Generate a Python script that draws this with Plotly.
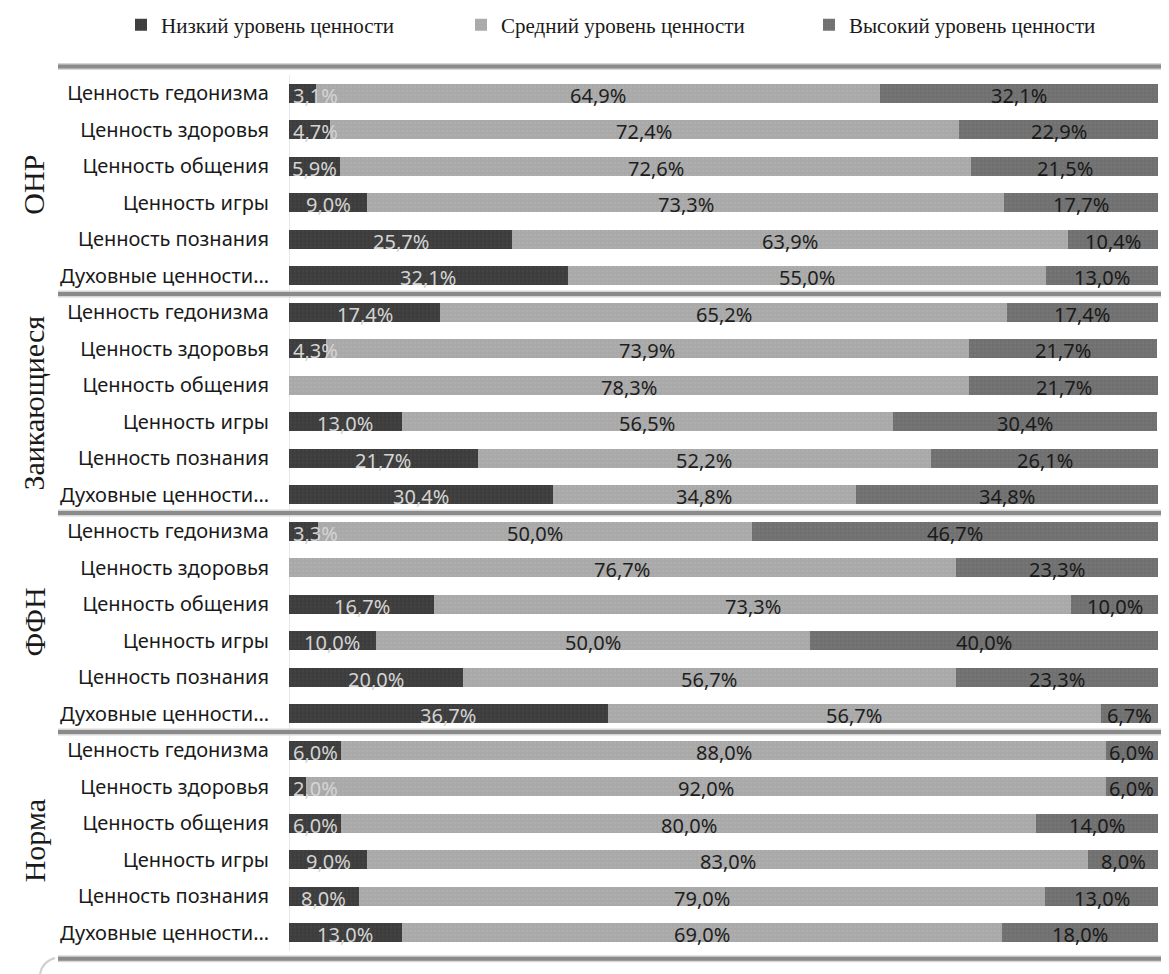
import plotly.graph_objects as go

groups = ["ОНР", "Заикающиеся", "ФФН", "Норма"]
categories = ["Ценность гедонизма", "Ценность здоровья", "Ценность общения",
              "Ценность игры", "Ценность познания", "Духовные ценности…"]
series_names = ["Низкий уровень ценности", "Средний уровень ценности", "Высокий уровень ценности"]

low = [3.1, 4.7, 5.9, 9.0, 25.7, 32.1,
       17.4, 4.3, 0.0, 13.0, 21.7, 30.4,
       3.3, 0.0, 16.7, 10.0, 20.0, 36.7,
       6.0, 2.0, 6.0, 9.0, 8.0, 13.0]
mid = [64.9, 72.4, 72.6, 73.3, 63.9, 55.0,
       65.2, 73.9, 78.3, 56.5, 52.2, 34.8,
       50.0, 76.7, 73.3, 50.0, 56.7, 56.7,
       88.0, 92.0, 80.0, 83.0, 79.0, 69.0]
high = [32.1, 22.9, 21.5, 17.7, 10.4, 13.0,
        17.4, 21.7, 21.7, 30.4, 26.1, 34.8,
        46.7, 23.3, 10.0, 40.0, 23.3, 6.7,
        6.0, 6.0, 14.0, 8.0, 13.0, 18.0]

# the page body has an 8px margin; work in figure coordinates
OFF = 8
W, H = 1169 - OFF, 974 - OFF
ML = 289 - OFF
MR = 1169 - 1158
MT, MB = 48.5, 4.5
plot_w = W - ML - MR

rows = list(range(len(low)))
ticktext = categories * len(groups)

colors = ["#3d3d3d", "#a9a9a9", "#707070"]
pat_fg = ["#4a4a4a", "#b3b3b3", "#7b7b7b"]
txt_colors = ["#d4d4d4", "#1e1e1e", "#1a1a1a"]
legend_ids = ["legend", "legend2", "legend3"]
legend_x = [149, 489, 837]

fig = go.Figure()
for name, vals, c, pf, lg in zip(series_names, [low, mid, high], colors, pat_fg, legend_ids):
    fig.add_trace(go.Bar(
        y=rows, x=vals, name=name, orientation="h", legend=lg,
        marker=dict(color=c, line=dict(width=0),
                    pattern=dict(shape=".", size=4, solidity=0.25, fgcolor=pf, bgcolor=c)),
        width=0.52, hoverinfo="skip"))

def fmt(v):
    return ("%.1f" % v).replace(".", ",") + "%"

annotations = []
px_per = plot_w / 100.0
for i in rows:
    starts = [0, low[i], low[i] + mid[i]]
    for vals, st, tc in zip([low, mid, high], starts, txt_colors):
        v = vals[i]
        if v <= 0:
            continue
        t = fmt(v)
        tw = len(t) * 11.6
        cx = st + v / 2
        if cx * px_per < tw / 2:
            x, xa, xs = 0, "left", 2
        elif (100 - cx) * px_per < tw / 2:
            x, xa, xs = 100, "right", -3
        else:
            x, xa, xs = cx, "center", 0
        annotations.append(dict(x=x, y=i, xref="x", yref="y", text=t, showarrow=False,
                                xanchor=xa, xshift=xs, yanchor="middle", yshift=-2,
                                font=dict(family="Noto Sans", size=20, color=tc)))

# group labels
for g, name in enumerate(groups):
    annotations.append(dict(x=-(ML - (34 - OFF)) / plot_w, xref="paper", y=g * 6 + 2.5, yref="y",
                            text=name, textangle=-90, showarrow=False,
                            xanchor="center", yanchor="middle",
                            font=dict(family="Liberation Serif", size=30, color="#1a1a1a")))

shapes = []
sep_y = [-0.74, 5.5, 11.5, 17.5, 23.72]
x0p = -(ML - (58 - OFF)) / plot_w
x1p = (W - ML) / plot_w
for yv in sep_y:
    shapes.append(dict(type="line", xref="paper", yref="y", x0=x0p, x1=x1p, y0=yv, y1=yv,
                       line=dict(color="#d6d6d6", width=7), layer="below"))
    shapes.append(dict(type="line", xref="paper", yref="y", x0=x0p, x1=x1p, y0=yv, y1=yv,
                       line=dict(color="#8a8a8a", width=4), layer="above"))
# vertical axis line
shapes.append(dict(type="line", xref="x", yref="y", x0=0, x1=0, y0=-0.5, y1=23.5,
                   line=dict(color="#d0d0d0", width=1), layer="below"))
# rounded corner of chart frame
shapes.append(dict(type="path", xref="paper", yref="paper",
                   path="M %f %f Q %f %f %f %f" % (-(ML - 32) / plot_w, -0.006,
                                                   -(ML - 34) / plot_w, 0.008,
                                                   -(ML - 47) / plot_w, 0.012),
                   line=dict(color="#cfcfcf", width=2)))

legend_common = dict(orientation="h", xref="container", yref="container",
                     xanchor="left", y=1 - (25 - OFF) / H, yanchor="middle",
                     bgcolor="rgba(0,0,0,0)",
                     font=dict(family="Liberation Serif", size=21, color="#1a1a1a"),
                     itemsizing="constant")
legends = {}
for lg, lx in zip(legend_ids, legend_x):
    legends[lg] = dict(legend_common, x=(lx - OFF - 28) / W)

fig.update_layout(
    width=W, height=H,
    margin=dict(l=ML, r=MR, t=MT, b=MB, autoexpand=False),
    barmode="stack",
    bargap=0,
    plot_bgcolor="white", paper_bgcolor="white",
    showlegend=True,
    xaxis=dict(range=[0, 100], showgrid=False, zeroline=False, showticklabels=False,
               showline=False, ticks="", fixedrange=True, automargin=False),
    yaxis=dict(range=[24, -1], tickmode="array", tickvals=rows, ticktext=ticktext,
               showgrid=False, zeroline=False, showline=False, automargin=False,
               ticks="outside", ticklen=15, tickcolor="rgba(0,0,0,0)",
               tickfont=dict(family="Noto Sans", size=20, color="#1a1a1a")),
    annotations=annotations,
    shapes=shapes,
    font=dict(family="Noto Sans"),
    **legends,
)

fig.write_html("out.html")
